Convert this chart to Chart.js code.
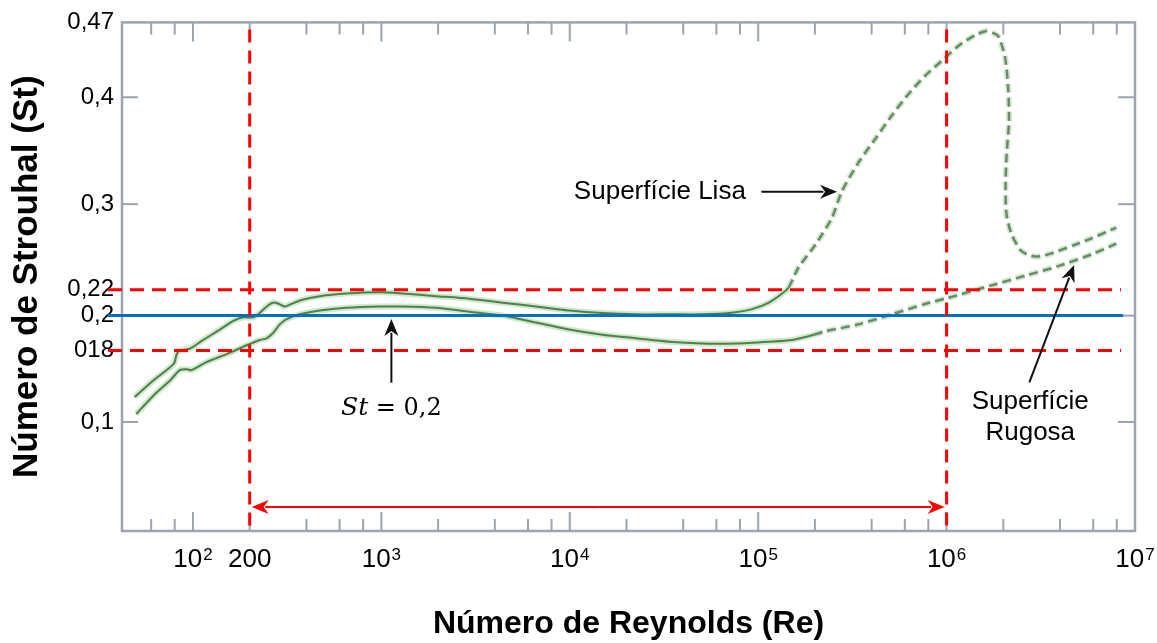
<!DOCTYPE html>
<html>
<head>
<meta charset="utf-8">
<script src="https://cdn.jsdelivr.net/npm/chart.js@4.4.1/dist/chart.umd.min.js"></script>
<style>
  html, body { margin: 0; padding: 0; background: #fff; }
  #wrap { width: 1157px; height: 643px; }
</style>
</head>
<body>
<div id="wrap"><canvas id="chart" width="1157" height="643"></canvas></div>
<script>
// Curva superior (Superfície Lisa) - Re e St
const reSuperior = [49, 62, 79, 82, 85, 96, 113, 139, 164, 185, 209, 226, 251, 266, 287, 307, 333, 377, 471, 652,
  979, 1300, 1950, 2930, 4400, 6610, 9930, 14900, 22400, 33600, 50500, 69900, 92800, 114000, 134000, 145000,
  164000, 201000, 246000, 278000, 341000, 418000, 512000, 628000, 769000, 942000, 1155000, 1416000, 1631000,
  1770000, 1881000, 2041000, 2125000, 2143000, 2081000, 2056000, 2081000, 2212000, 2499000, 2943000, 3461000,
  4794000, 5869000, 7962000];
const stSuperior = [0.128, 0.147, 0.165, 0.176, 0.180, 0.181, 0.186, 0.192, 0.197, 0.199, 0.199, 0.202, 0.208, 0.210,
  0.209, 0.207, 0.209, 0.212, 0.215, 0.217, 0.218, 0.217, 0.215, 0.213, 0.210, 0.207, 0.204, 0.202, 0.201, 0.201,
  0.201, 0.202, 0.205, 0.210, 0.217, 0.222, 0.241, 0.262, 0.287, 0.312, 0.339, 0.361, 0.383, 0.403, 0.420, 0.434,
  0.448, 0.458, 0.462, 0.460, 0.457, 0.438, 0.407, 0.377, 0.346, 0.315, 0.290, 0.272, 0.256, 0.251, 0.253, 0.262,
  0.268, 0.278];

// Curva inferior (Superfície Rugosa)
const reInferior = [50, 62, 76, 85, 93, 98, 118, 151, 193, 226, 246, 266, 289, 314, 369, 471, 652, 979, 1300, 1950,
  2930, 4400, 6610, 9930, 14900, 22400, 33600, 50500, 75900, 114000, 151000, 197000, 227000, 341000, 512000,
  769000, 982000, 1734000, 2605000, 3910000, 5869000, 7962000];
const stInferior = [0.109, 0.130, 0.147, 0.158, 0.159, 0.158, 0.167, 0.176, 0.183, 0.186, 0.187, 0.190, 0.195, 0.198,
  0.201, 0.204, 0.206, 0.207, 0.207, 0.206, 0.203, 0.200, 0.196, 0.192, 0.189, 0.187, 0.185, 0.184, 0.184, 0.185,
  0.186, 0.189, 0.191, 0.195, 0.201, 0.209, 0.213, 0.224, 0.233, 0.242, 0.253, 0.263];

// A partir destes Re as curvas ficam tracejadas
const tracejadoSuperiorDesde = 140000;
const tracejadoInferiorDesde = 190000;

// Ticks dos eixos
const xTicks = [100, 200, 1e3, 1e4, 1e5, 1e6, 1e7];
const xTickBase = ["10", "200", "10", "10", "10", "10", "10"];
const xTickExpoente = ["2", "", "3", "4", "5", "6", "7"];
const yTicks = [0.1, 0.18, 0.2, 0.22, 0.3, 0.4, 0.47];
const yTickLabels = ["0,1", "018", "0,2", "0,22", "0,3", "0,4", "0,47"];

// Linhas de referência
const stReferencia = 0.2;
const limitesSt = [0.18, 0.22];
const limitesRe = [200, 1e6];
const stSeta = 0.022; // altura da seta dupla entre os limites de Re

// O eixo St da figura não é uniforme: a faixa 0,18-0,22 aparece esticada.
// Nós da escala (valor) e fração da altura do gráfico correspondente.
const nosSt = [0, 0.1, 0.18, 0.2, 0.22, 0.47];
const fracSt = [0, 0.2143, 0.3549, 0.4235, 0.4745, 1];

const FONTE = "'Liberation Sans', Arial, sans-serif";
const COR_EIXO = "#9da3b3";

const pontos = (xs, ys) => xs.map((x, i) => ({ x: x, y: ys[i] }));

// Interpolação linear por trechos (com extrapolação nas pontas)
const interp = (v, de, para) => {
  let i = 0;
  while (i < de.length - 2 && v > de[i + 1]) i++;
  const t = (v - de[i]) / (de[i + 1] - de[i]);
  return para[i] + t * (para[i + 1] - para[i]);
};

// Escala linear por trechos, registrada no Chart.js
class EscalaTramos extends Chart.LinearScale {
  getPixelForValue(value) {
    if (value === null || value === undefined || isNaN(value)) return NaN;
    return this.getPixelForDecimal(interp(value, nosSt, fracSt));
  }
  getValueForPixel(pixel) {
    return interp(this.getDecimalForPixel(pixel), fracSt, nosSt);
  }
}
EscalaTramos.id = "tramos";
EscalaTramos.defaults = Chart.LinearScale.defaults;
Chart.register(EscalaTramos);

// Função auxiliar para desenhar uma seta
const seta = (ctx, x1, y1, x2, y2, cor, largura, comp, meia) => {
  const ang = Math.atan2(y2 - y1, x2 - x1);
  const c = Math.cos(ang), s = Math.sin(ang);
  ctx.save();
  ctx.strokeStyle = cor;
  ctx.fillStyle = cor;
  ctx.lineWidth = largura;
  ctx.setLineDash([]);
  ctx.beginPath();
  ctx.moveTo(x1, y1);
  ctx.lineTo(x2 - c * comp * 0.8, y2 - s * comp * 0.8);
  ctx.stroke();
  ctx.beginPath();
  ctx.moveTo(x2, y2);
  ctx.lineTo(x2 - comp * c + meia * s, y2 - comp * s - meia * c);
  ctx.lineTo(x2 - comp * 0.7 * c, y2 - comp * 0.7 * s);
  ctx.lineTo(x2 - comp * c - meia * s, y2 - comp * s + meia * c);
  ctx.closePath();
  ctx.fill();
  ctx.restore();
};

// Plugin: moldura, ticks internos, rótulos de x, linhas de referência e anotações
const desenhoExtra = {
  id: "desenhoExtra",
  beforeDatasetsDraw(chart) {
    const { ctx, chartArea: a, scales } = chart;
    const xs = scales.x, ys = scales.y;
    ctx.save();
    ctx.strokeStyle = COR_EIXO;
    ctx.lineWidth = 2;
    // ticks de x (décadas e 2,4,6,8)
    for (let k = 1; k <= 6; k++) {
      [1, 2, 4, 6, 8].forEach((m) => {
        const v = m * Math.pow(10, k);
        if (v <= xs.min || v >= xs.max) return;
        const px = xs.getPixelForValue(v);
        const len = m === 1 ? 19 : 12;
        ctx.beginPath();
        ctx.moveTo(px, a.bottom);
        ctx.lineTo(px, a.bottom - len);
        ctx.moveTo(px, a.top);
        ctx.lineTo(px, a.top + len);
        ctx.stroke();
      });
    }
    // ticks de y
    [0.1, 0.3, 0.4].forEach((v) => {
      const py = ys.getPixelForValue(v);
      ctx.beginPath();
      ctx.moveTo(a.left, py);
      ctx.lineTo(a.left + 16, py);
      ctx.stroke();
    });
    [0.1, 0.2, 0.3, 0.4].forEach((v) => {
      const py = ys.getPixelForValue(v);
      ctx.beginPath();
      ctx.moveTo(a.right, py);
      ctx.lineTo(a.right - 17, py);
      ctx.stroke();
    });
    ctx.lineWidth = 2.5;
    ctx.strokeRect(a.left, a.top, a.right - a.left, a.bottom - a.top);

    // rótulos do eixo x com expoente
    ctx.fillStyle = "#000";
    ctx.textBaseline = "alphabetic";
    ctx.textAlign = "left";
    xTicks.forEach((v, i) => {
      const px = xs.getPixelForValue(v);
      ctx.font = "26px " + FONTE;
      const wb = ctx.measureText(xTickBase[i]).width;
      ctx.font = "17px " + FONTE;
      const we = xTickExpoente[i] ? ctx.measureText(xTickExpoente[i]).width + 1 : 0;
      const x0 = px - (wb + we) / 2;
      ctx.font = "26px " + FONTE;
      ctx.fillText(xTickBase[i], x0, a.bottom + 36);
      if (xTickExpoente[i]) {
        ctx.font = "17px " + FONTE;
        ctx.fillText(xTickExpoente[i], x0 + wb + 1, a.bottom + 29);
      }
    });
    ctx.restore();
  },
  afterDatasetsDraw(chart) {
    const { ctx, chartArea: a, scales } = chart;
    const xs = scales.x, ys = scales.y;
    ctx.save();
    // linhas horizontais
    ctx.lineWidth = 3;
    ctx.strokeStyle = "#ff0000";
    ctx.setLineDash([14, 8]);
    limitesSt.forEach((v) => {
      const py = ys.getPixelForValue(v);
      ctx.beginPath();
      ctx.moveTo(a.left - 14, py);
      ctx.lineTo(a.right - 14, py);
      ctx.stroke();
    });
    ctx.setLineDash([]);
    ctx.strokeStyle = "#0070c0";
    const pyRef = ys.getPixelForValue(stReferencia);
    ctx.beginPath();
    ctx.moveTo(a.left - 14, pyRef);
    ctx.lineTo(a.right - 12, pyRef);
    ctx.stroke();
    // linhas verticais
    ctx.strokeStyle = "#ff0000";
    ctx.setLineDash([13, 8]);
    limitesRe.forEach((v) => {
      const px = xs.getPixelForValue(v);
      ctx.beginPath();
      ctx.moveTo(px, a.top + 7);
      ctx.lineTo(px, a.bottom);
      ctx.stroke();
    });
    ctx.restore();

    // seta dupla
    const x1 = xs.getPixelForValue(limitesRe[0]);
    const x2 = xs.getPixelForValue(limitesRe[1]);
    const yA = ys.getPixelForValue(stSeta);
    const xm = (x1 + x2) / 2;
    seta(ctx, xm, yA, x1 + 2, yA, "#ff0000", 2, 17, 7);
    seta(ctx, xm, yA, x2 - 2, yA, "#ff0000", 2, 17, 7);

    // anotações
    const P = (re, st) => [xs.getPixelForValue(re), ys.getPixelForValue(st)];
    ctx.save();
    ctx.fillStyle = "#000";
    ctx.textBaseline = "middle";

    // St = 0,2
    let [ax, ay] = P(1130, 0.144);
    let [bx, by] = P(1130, 0.198);
    seta(ctx, ax, ay, bx, by, "#111", 2, 17, 7);
    const [tx, ty] = P(1130, 0.1153);
    const fItal = "italic 25px 'DejaVu Serif', serif";
    const fReg = "24px 'DejaVu Serif', serif";
    ctx.font = fItal;
    const w1 = ctx.measureText("St").width;
    ctx.font = fReg;
    const w2 = ctx.measureText(" = 0,2").width;
    const x0 = tx - (w1 + w2) / 2;
    ctx.textAlign = "left";
    ctx.font = fItal;
    ctx.fillText("St", x0, ty);
    ctx.font = fReg;
    ctx.fillText(" = 0,2", x0 + w1, ty);

    // Superfície Lisa
    ctx.font = "26px " + FONTE;
    ctx.textAlign = "right";
    const [lx, ly] = P(86000, 0.3117);
    ctx.fillText("Superfície Lisa", lx, ly);
    [ax, ay] = P(104000, 0.3117);
    [bx, by] = P(262000, 0.3117);
    seta(ctx, ax, ay, bx, by, "#111", 2, 17, 7);

    // Superfície Rugosa
    ctx.textAlign = "center";
    const [rx, ry1] = P(2780000, 0.1231);
    const ry2 = ys.getPixelForValue(0.0897);
    ctx.fillText("Superfície", rx, ry1);
    ctx.fillText("Rugosa", rx, ry2);
    [ax, ay] = P(2750000, 0.1443);
    [bx, by] = P(4750000, 0.2431);
    seta(ctx, ax, ay, bx, by, "#111", 2, 17, 7);
    ctx.restore();
  }
};

const tracejado = (limite) => (c) => (c.p0.parsed.x >= limite ? [9, 5] : undefined);
const corCurva = (limite) => (c) => (c.p0.parsed.x >= limite ? "#6a8a6d" : "#4f7f50");
const larguraCurva = (limite) => (c) => (c.p0.parsed.x >= limite ? 2.5 : 2);

const curva = (xs, ys, limite, halo) => ({
  data: pontos(xs, ys),
  borderColor: halo ? "rgba(185, 225, 175, 0.7)" : "#4f7f50",
  borderWidth: halo ? 6 : 2,
  pointRadius: 0,
  tension: 0.25,
  fill: false,
  order: halo ? 2 : 1,
  segment: {
    borderDash: tracejado(limite),
    borderColor: halo ? undefined : corCurva(limite),
    borderWidth: halo ? undefined : larguraCurva(limite)
  }
});

const ctx = document.querySelector("#chart").getContext("2d");
const chart = new Chart(ctx, {
  type: "line",
  data: {
    datasets: [
      curva(reSuperior, stSuperior, tracejadoSuperiorDesde, true),
      curva(reInferior, stInferior, tracejadoInferiorDesde, true),
      curva(reSuperior, stSuperior, tracejadoSuperiorDesde, false),
      curva(reInferior, stInferior, tracejadoInferiorDesde, false)
    ]
  },
  options: {
    responsive: false,
    animation: false,
    layout: { padding: { top: 21, right: 22, left: 0, bottom: 0 } },
    plugins: { legend: { display: false }, tooltip: { enabled: false } },
    scales: {
      x: {
        type: "logarithmic",
        min: 42,
        max: 1e7,
        grid: { display: false, drawTicks: false },
        border: { display: false },
        afterBuildTicks: (s) => { s.ticks = xTicks.map((v) => ({ value: v })); },
        afterFit: (s) => { s.height = 112; },
        ticks: { display: false },
        title: {
          display: true,
          text: "Número de Reynolds (Re)",
          color: "#000",
          font: { family: FONTE, size: 32, weight: "bold" },
          padding: { top: 0, bottom: 0 }
        }
      },
      y: {
        type: "tramos",
        min: 0,
        max: 0.47,
        grid: { display: false, drawTicks: false },
        border: { display: false },
        afterBuildTicks: (s) => { s.ticks = yTicks.map((v) => ({ value: v })); },
        afterFit: (s) => { s.width = 122; },
        ticks: {
          autoSkip: false,
          padding: 8,
          color: "#000",
          font: { family: FONTE, size: 24 },
          callback: (v, i) => yTickLabels[i]
        },
        title: {
          display: true,
          text: "Número de Strouhal (St)",
          color: "#000",
          font: { family: FONTE, size: 35, weight: "bold" },
          padding: { top: 6, bottom: 0 }
        }
      }
    }
  },
  plugins: [desenhoExtra]
});
</script>
</body>
</html>
